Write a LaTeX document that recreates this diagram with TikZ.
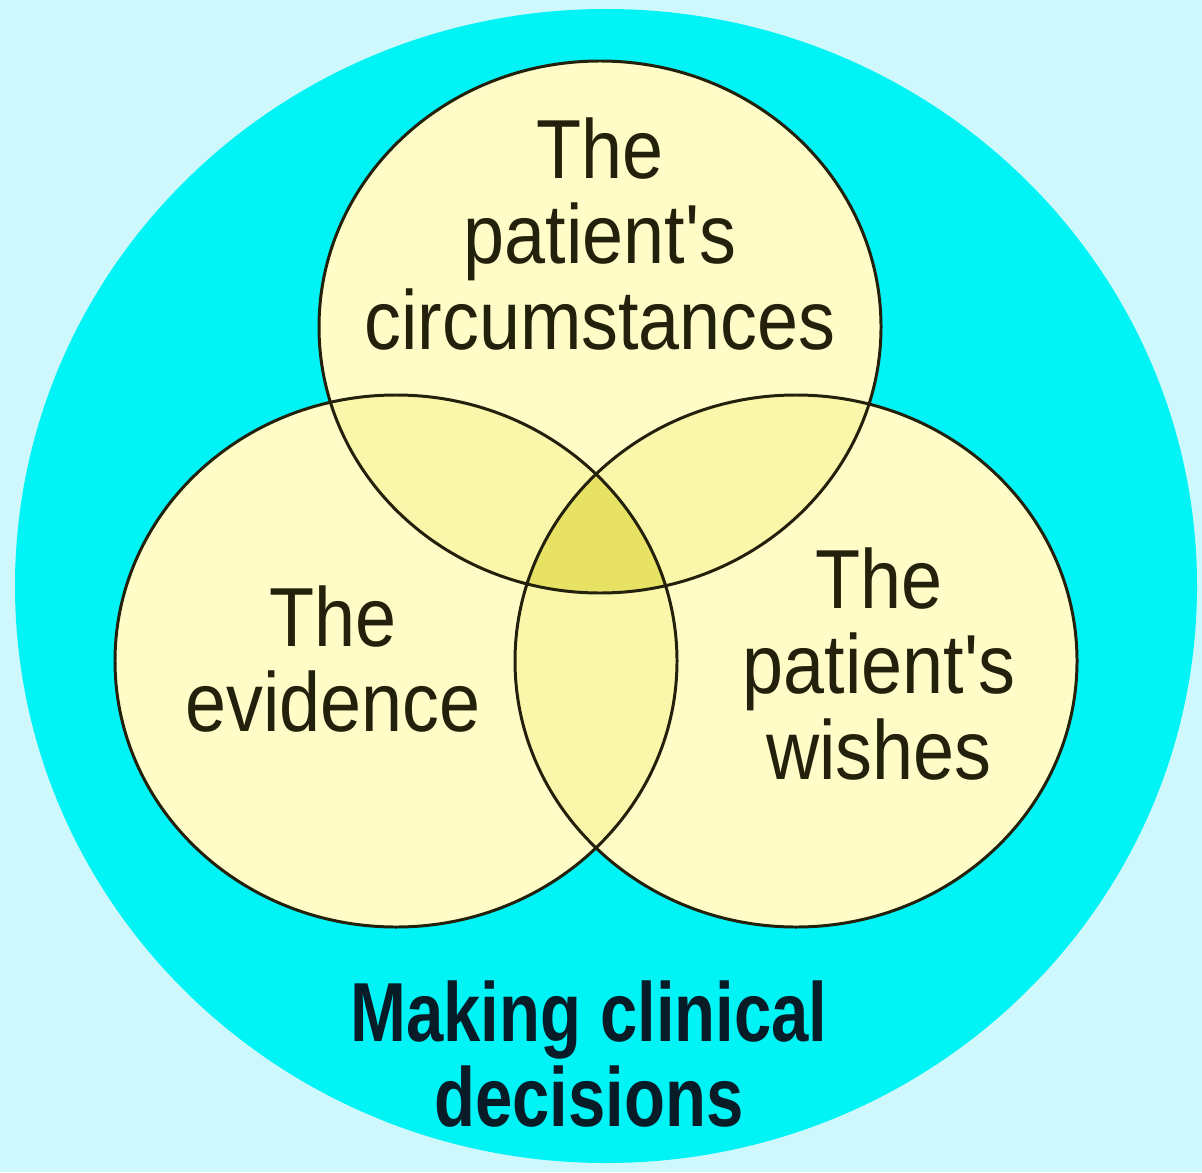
\documentclass[tikz,border=0pt]{standalone}
\usepackage{fontspec}
\newfontfamily\vennfont{Liberation Sans}[FakeStretch=0.88]
\newfontfamily\decisionfont{Liberation Sans}[FakeStretch=0.80]
\definecolor{paper}{RGB}{206,248,252}
\definecolor{cyanbg}{RGB}{0,244,246}
\definecolor{onefill}{RGB}{255,252,200}
\definecolor{twofill}{RGB}{250,246,170}
\definecolor{threefill}{RGB}{232,226,100}
\definecolor{ink}{RGB}{35,32,12}
\definecolor{navyink}{RGB}{8,28,40}

% the three sets
\def\settop{(600,327) ellipse [x radius=281, y radius=266]}
\def\setleft{(396,661) ellipse [x radius=281, y radius=266]}
\def\setright{(796,661) ellipse [x radius=281, y radius=266]}

\begin{document}
\begin{tikzpicture}[x=0.02cm,y=-0.02cm,
    venntext/.style={align=center,inner sep=0pt,text=ink,
      font=\vennfont\fontsize{47.7}{48.8}\selectfont},
    outline/.style={draw=ink,line width=1.7pt}]
    \useasboundingbox (0,0) rectangle (1202,1172);
    \fill[paper] (0,0) rectangle (1202,1172);
    \fill[cyanbg] (606,586) ellipse [x radius=591, y radius=577];

    % fills
    \fill[onefill] \settop;
    \fill[onefill] \setleft;
    \fill[onefill] \setright;
    \begin{scope}
        \clip \settop;
        \fill[twofill] \setleft;
        \fill[twofill] \setright;
    \end{scope}
    \begin{scope}
        \clip \setleft;
        \fill[twofill] \setright;
    \end{scope}
    \begin{scope}
        \clip \settop;
        \clip \setleft;
        \fill[threefill] \setright;
    \end{scope}

    % outlines
    \draw[outline] \settop;
    \draw[outline] \setleft;
    \draw[outline] \setright;

    \node[venntext] (circumstances) at (600,234) {The\\patient's\\circumstances};
    \node[venntext] (evidence) at (333,659) {The\\evidence};
    \node[venntext] (wishes) at (879,664) {The\\patient's\\wishes};
    \node[align=center,inner sep=0pt,text=navyink,
      font=\decisionfont\bfseries\fontsize{47.7}{48.8}\selectfont]
      (decisions) at (589,1054) {Making clinical\\decisions};
\end{tikzpicture}
\end{document}
